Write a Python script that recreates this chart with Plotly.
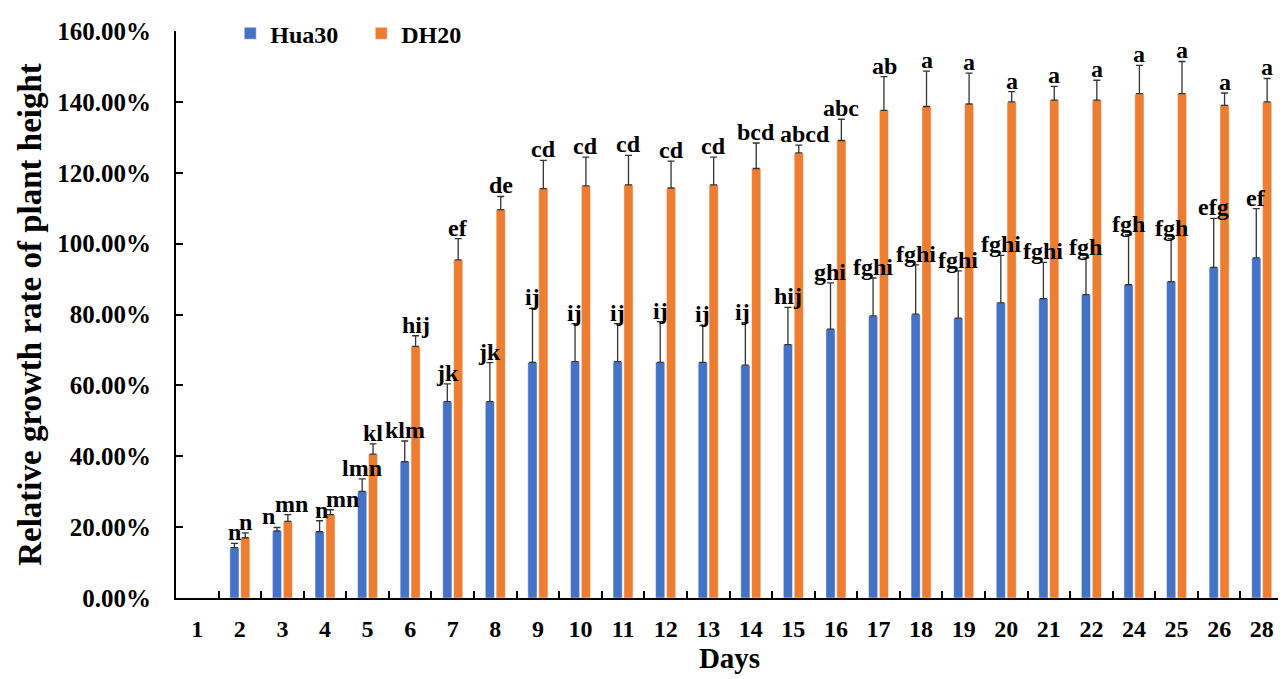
import plotly.graph_objects as go

days = ["1", "2", "3", "4", "5", "6", "7", "8", "9", "10", "11", "12", "13",
        "14", "15", "16", "17", "18", "19", "20", "21", "22", "24", "25", "26", "28"]

hua30 = [None, 14.2, 18.9, 18.7, 30.1, 38.5, 55.4, 55.4, 66.5, 66.7, 66.7, 66.5, 66.5,
         65.7, 71.5, 75.9, 79.6, 80.1, 79.0, 83.3, 84.5, 85.6, 88.4, 89.3, 93.3, 96.0]
hua30_err = [None, 1.2, 1.0, 3.1, 3.5, 5.8, 5.0, 11.0, 15.2, 10.7, 10.7, 11.5, 10.4,
             12.0, 10.5, 13.0, 10.7, 13.9, 13.3, 13.4, 10.2, 10.4, 14.1, 12.1, 13.8, 13.9]
hua30_lbl = ["", "n", "n", "n", "lmn", "klm", "jk", "jk", "ij", "ij", "ij", "ij", "ij",
             "ij", "hij", "ghi", "fghi", "fghi", "fghi", "fghi", "fghi", "fgh", "fgh", "fgh", "efg", "ef"]

dh20 = [None, 17.0, 21.6, 23.5, 40.6, 71.0, 95.4, 109.6, 115.5, 116.3, 116.6, 115.7, 116.6,
        121.2, 125.6, 129.1, 137.6, 138.7, 139.4, 140.0, 140.5, 140.5, 142.3, 142.3, 139.0, 140.0]
dh20_err = [None, 1.4, 1.9, 1.4, 2.9, 3.0, 6.0, 3.7, 8.0, 8.1, 8.3, 7.6, 7.8,
            7.2, 2.2, 6.0, 9.5, 10.0, 8.7, 2.9, 3.9, 5.6, 8.0, 9.1, 3.5, 6.6]
dh20_lbl = ["", "n", "mn", "mn", "kl", "hij", "ef", "de", "cd", "cd", "cd", "cd", "cd",
            "bcd", "abcd", "abc", "ab", "a", "a", "a", "a", "a", "a", "a", "a", "a"]

FONT = "Liberation Serif"
BLUE = "#4472C4"
ORANGE = "#ED7D31"

fig = go.Figure()
for name, vals, errs, col in [("Hua30", hua30, hua30_err, BLUE), ("DH20", dh20, dh20_err, ORANGE)]:
    fig.add_trace(go.Bar(
        x=days, y=vals, name=name,
        marker=dict(color=col, line=dict(color="white", width=0.5)),
        error_y=dict(type="data", array=errs, arrayminus=[0] * len(errs), symmetric=False,
                     color="#333333", thickness=1.3, width=3.5),
    ))

# small label nudges (pixels) where neighbouring letter labels would collide
nudge_dh20 = {"3": 4, "4": 12, "15": 6}
nudge_hua30 = {"3": -8, "4": 2, "14": -3}

annotations = []
for vals, errs, lbls, shift, nudge in [(hua30, hua30_err, hua30_lbl, -5.5, nudge_hua30),
                                       (dh20, dh20_err, dh20_lbl, 5.5, nudge_dh20)]:
    for i, (v, e, t) in enumerate(zip(vals, errs, lbls)):
        if v is None or not t:
            continue
        annotations.append(dict(
            x=i, y=v + e, xref="x", yref="y", text=t, showarrow=False,
            xshift=shift + nudge.get(days[i], 0), yanchor="bottom", yshift=-3, borderpad=0,
            font=dict(family=FONT, size=24, color="black", weight="bold"),
        ))

fig.update_layout(
    width=1278, height=671,
    margin=dict(l=168, r=3, t=13, b=81),
    plot_bgcolor="white", paper_bgcolor="white",
    barmode="group", bargap=0.49, bargroupgap=0.15,
    annotations=annotations,
    showlegend=True,
    legend=dict(orientation="h", x=0.049, y=1.035, xanchor="left", yanchor="top",
                font=dict(family=FONT, size=24, color="black", weight="bold"),
                bgcolor="rgba(0,0,0,0)", itemwidth=30, entrywidth=86, traceorder="normal"),
    xaxis=dict(
        type="category", categoryorder="array", categoryarray=days,
        range=[-0.5, len(days) - 0.5],
        showline=True, linecolor="black", linewidth=2,
        ticks="inside", ticklen=7, tickcolor="black", tickwidth=2, tickson="boundaries",
        ticklabelstandoff=8,
        tickfont=dict(family=FONT, size=24, color="black", weight="bold"),
        title=dict(text="Days", font=dict(family=FONT, size=29, color="black", weight="bold"), standoff=5),
        showgrid=False, zeroline=False,
    ),
    yaxis=dict(
        range=[0, 160], dtick=20, tickformat=".2f", ticksuffix="%",
        showline=True, linecolor="black", linewidth=2,
        ticks="inside", ticklen=7, tickcolor="black", tickwidth=2,
        ticklabelstandoff=18,
        tickfont=dict(family=FONT, size=25, color="black", weight="bold"),
        title=dict(text="Relative growth rate of plant height",
                   font=dict(family=FONT, size=33, color="black", weight="bold"), standoff=6),
        showgrid=False, zeroline=False,
    ),
)

fig.write_html("out.html")
